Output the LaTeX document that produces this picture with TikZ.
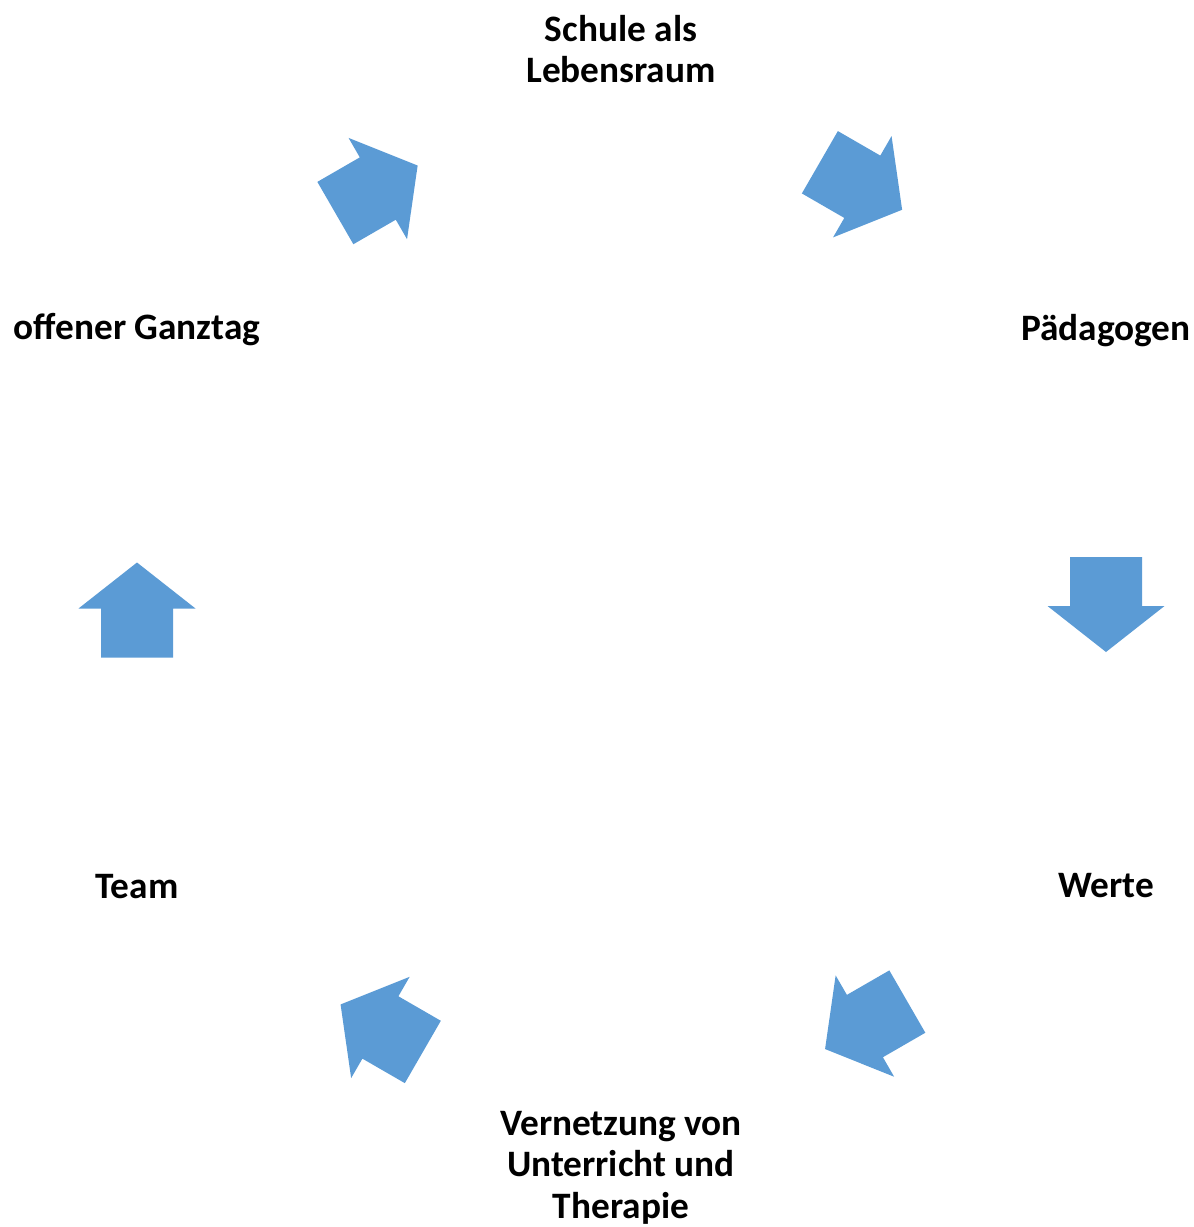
\documentclass[tikz,border=0pt]{standalone}
\usepackage{fontspec}
\setmainfont{Carlito}
\definecolor{arrowblue}{HTML}{5B9BD5}
\tikzset{
  lbl/.style={font=\bfseries\fontsize{37.3}{41.5}\selectfont, align=center, inner sep=0pt, anchor=base},
  blockarrow/.pic={\fill[arrowblue] (-47.5,-36) -- (1.5,-36) -- (1.5,-58.5) -- (47.5,0) -- (1.5,58.5) -- (1.5,36) -- (-47.5,36) -- cycle;}
}
\begin{document}
\begin{tikzpicture}[x=1pt,y=-1pt]
\useasboundingbox (0,0) rectangle (1194,1227);
\node[lbl] (schule) at (621,82.5) {Schule als\\Lebensraum};
\node[lbl] (paed) at (1106,340) {Pädagogen};
\node[lbl] (werte) at (1106,897) {Werte};
\node[lbl] (vern) at (621,1218) {Vernetzung von\\Unterricht und\\Therapie};
\node[lbl] (team) at (137,898) {Team};
\node[lbl] (ganztag) at (137,339) {offener Ganztag};
\pic[rotate=-30] at (861,186) {blockarrow};
\pic[rotate=-90] at (1106,604.5) {blockarrow};
\pic[rotate=-150] at (866.2,1025.3) {blockarrow};
\pic[rotate=150] at (381.7,1028.2) {blockarrow};
\pic[rotate=90] at (137,610) {blockarrow};
\pic[rotate=30] at (376.5,189.3) {blockarrow};
\end{tikzpicture}
\end{document}
